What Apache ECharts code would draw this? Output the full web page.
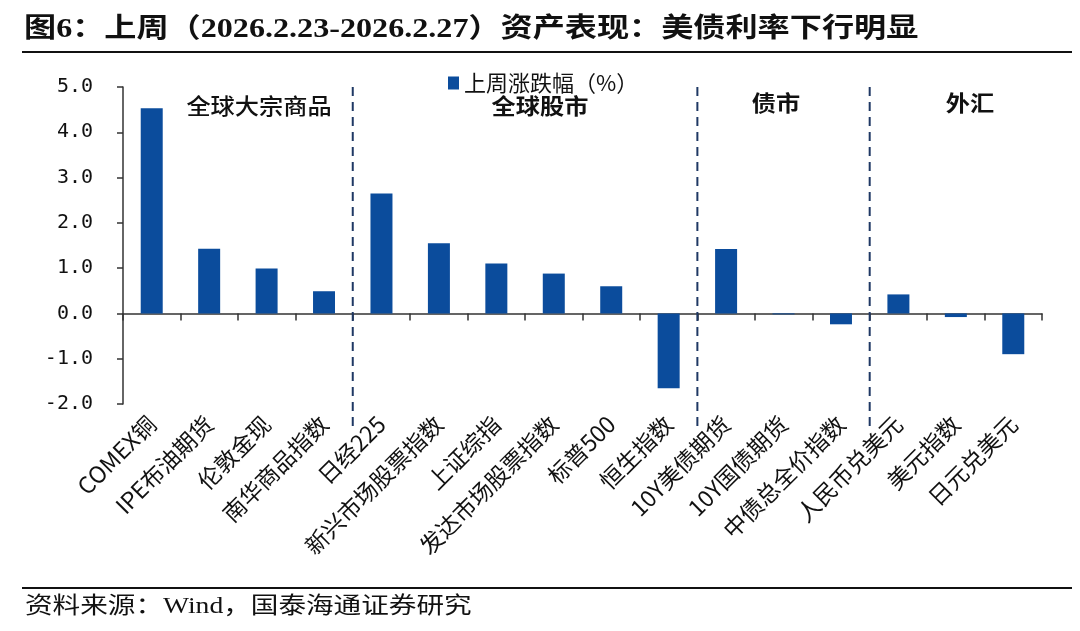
<!DOCTYPE html>
<html><head><meta charset="utf-8">
<script src="https://cdn.jsdelivr.net/npm/echarts@6/dist/echarts.min.js"></script>
<style>html,body{margin:0;padding:0;background:#fff}#c{width:1080px;height:631px}</style>
</head><body><div id="c"></div>
<script>
const categories = ['COMEX铜','IPE布油期货','伦敦金现','南华商品指数','日经225','新兴市场股票指数','上证综指','发达市场股票指数','标普500','恒生指数','10Y美债期货','10Y国债期货','中债总全价指数','人民币兑美元','美元指数','日元兑美元'];
const weeklyChange = [4.53, 1.43, 0.99, 0.49, 2.65, 1.55, 1.1, 0.88, 0.6, -1.65, 1.42, -0.02, -0.24, 0.42, -0.08, -0.9];
const yTicks = [-2, -1, 0, 1, 2, 3, 4, 5];
const dividers = [4, 10, 13];
const groupLabels = ['全球大宗商品', '全球股市', '债市', '外汇'];
const seriesName = '上周涨跌幅（%）';

const chart = echarts.init(document.getElementById('c'));
const sansCJK = '"Noto Sans CJK SC", sans-serif';
const serifMix = '"Liberation Serif", "Noto Sans CJK SC", serif';
chart.setOption({
  animation: false,
  grid: {left: 123, right: 38, top: 87, bottom: 227, containLabel: false},
  legend: {
    left: 443, top: 67, itemWidth: 11, itemHeight: 13, itemGap: 7, icon: 'rect',
    data: [seriesName],
    textStyle: {fontFamily: sansCJK, fontSize: 22, color: '#111'}
  },
  xAxis: [{
    type: 'category', data: categories,
    axisLine: {onZero: true, lineStyle: {color: '#333', width: 1.5}},
    axisTick: {show: true, length: 7, lineStyle: {color: '#333', width: 1.5}},
    axisLabel: {rotate: 45, margin: 16, interval: 0, fontFamily: sansCJK, fontSize: 23, color: '#111'}
  }, {
    type: 'value', min: 0, max: categories.length, show: false
  }],
  yAxis: {
    type: 'value', min: yTicks[0], max: yTicks[yTicks.length-1], interval: 1,
    splitLine: {show: false},
    axisLine: {show: true, lineStyle: {color: '#333', width: 1.5}},
    axisTick: {show: true, length: 6, lineStyle: {color: '#333', width: 1.5}},
    axisLabel: {formatter: v => v.toFixed(1), fontFamily: '"DejaVu Sans Mono", monospace', fontSize: 20, color: '#111', margin: 30}
  },
  series: [{
    name: seriesName, type: 'bar', data: weeklyChange, barWidth: 22,
    itemStyle: {color: '#0B4C9C'}
  }, {
    type: 'custom', xAxisIndex: 1, data: dividers.map(d => [d]),
    silent: true,
    renderItem: (params, api) => {
      const top = api.coord([api.value(0), yTicks[yTicks.length-1]]);
      const bot = api.coord([api.value(0), yTicks[0]]);
      return {type: 'line', shape: {x1: top[0], y1: top[1], x2: bot[0], y2: bot[1] + 22},
        style: {stroke: '#1F3864', lineWidth: 2, lineDash: [9, 6]}};
    }
  }],
  graphic: [
    {type: 'text', x: 24, y: 30, scaleX: 1.19, style: {text: '图6：上周（2026.2.23-2026.2.27）资产表现：美债利率下行明显', font: 'bold 27px ' + serifMix, fill: '#111', verticalAlign: 'middle'}},
    {type: 'rect', shape: {x: 22, y: 51, width: 1050, height: 2}, style: {fill: '#111'}},
    {type: 'rect', shape: {x: 22, y: 587, width: 1050, height: 2}, style: {fill: '#111'}},
    {type: 'text', x: 25, y: 607, scaleX: 1.2, style: {text: '资料来源：Wind，国泰海通证券研究', font: '23px ' + serifMix, fill: '#111', verticalAlign: 'middle'}},
    {type: 'text', x: 259, y: 106, scaleX: 1.1, style: {text: groupLabels[0], font: '500 22px ' + sansCJK, fill: '#111', align: 'center', verticalAlign: 'middle'}},
    {type: 'text', x: 540, y: 106, scaleX: 1.1, style: {text: groupLabels[1], font: 'bold 22px ' + sansCJK, fill: '#111', align: 'center', verticalAlign: 'middle'}},
    {type: 'text', x: 776, y: 103, scaleX: 1.1, style: {text: groupLabels[2], font: 'bold 22px ' + sansCJK, fill: '#111', align: 'center', verticalAlign: 'middle'}},
    {type: 'text', x: 970, y: 103, scaleX: 1.1, style: {text: groupLabels[3], font: 'bold 22px ' + sansCJK, fill: '#111', align: 'center', verticalAlign: 'middle'}}
  ]
});
</script></body></html>
